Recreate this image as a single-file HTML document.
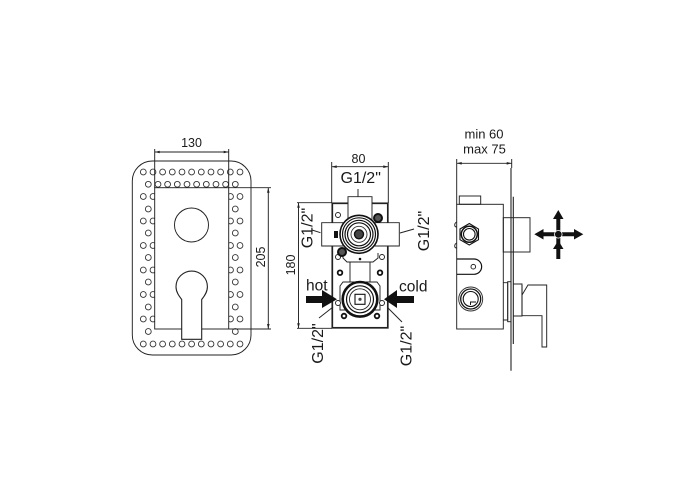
<!DOCTYPE html>
<html><head><meta charset="utf-8"><style>
html,body{margin:0;padding:0;background:#fff}
svg{display:block}
text{font-family:"Liberation Sans",sans-serif;fill:#1a1a1a}
</style></head><body>
<svg width="700" height="500" viewBox="0 0 700 500" xmlns="http://www.w3.org/2000/svg">
<rect width="700" height="500" fill="#fff"/>
<g fill="none" stroke="#222" stroke-width="0.95">
<!-- LEFT VIEW -->
<rect x="132.3" y="161" width="118.7" height="194" rx="20" ry="20"/>
<g stroke="#333" stroke-width="0.9" fill="#fff">
<circle cx="143.3" cy="172" r="2.9"/><circle cx="153" cy="172" r="2.9"/><circle cx="162.6" cy="172" r="2.9"/><circle cx="172.3" cy="172" r="2.9"/><circle cx="182" cy="172" r="2.9"/><circle cx="191.6" cy="172" r="2.9"/><circle cx="201.3" cy="172" r="2.9"/><circle cx="211" cy="172" r="2.9"/><circle cx="220.6" cy="172" r="2.9"/><circle cx="230.3" cy="172" r="2.9"/><circle cx="240" cy="172" r="2.9"/>
<circle cx="148.3" cy="184.3" r="2.9"/><circle cx="158" cy="184.3" r="2.9"/><circle cx="167.6" cy="184.3" r="2.9"/><circle cx="177.3" cy="184.3" r="2.9"/><circle cx="187" cy="184.3" r="2.9"/><circle cx="196.6" cy="184.3" r="2.9"/><circle cx="206.3" cy="184.3" r="2.9"/><circle cx="216" cy="184.3" r="2.9"/><circle cx="225.6" cy="184.3" r="2.9"/><circle cx="235.3" cy="184.3" r="2.9"/>
<circle cx="143.3" cy="196.5" r="2.9"/><circle cx="153" cy="196.5" r="2.9"/><circle cx="230.5" cy="196.5" r="2.9"/><circle cx="240" cy="196.5" r="2.9"/>
<circle cx="148.3" cy="209" r="2.9"/><circle cx="235.3" cy="209" r="2.9"/>
<circle cx="143.3" cy="221" r="2.9"/><circle cx="153" cy="221" r="2.9"/><circle cx="230.5" cy="221" r="2.9"/><circle cx="240" cy="221" r="2.9"/>
<circle cx="148.3" cy="233" r="2.9"/><circle cx="235.3" cy="233" r="2.9"/>
<circle cx="143.3" cy="245.5" r="2.9"/><circle cx="153" cy="245.5" r="2.9"/><circle cx="230.5" cy="245.5" r="2.9"/><circle cx="240" cy="245.5" r="2.9"/>
<circle cx="148.3" cy="257.5" r="2.9"/><circle cx="235.3" cy="257.5" r="2.9"/>
<circle cx="143.3" cy="270" r="2.9"/><circle cx="153" cy="270" r="2.9"/><circle cx="230.5" cy="270" r="2.9"/><circle cx="240" cy="270" r="2.9"/>
<circle cx="148.3" cy="282" r="2.9"/><circle cx="235.3" cy="282" r="2.9"/>
<circle cx="143.3" cy="294.5" r="2.9"/><circle cx="153" cy="294.5" r="2.9"/><circle cx="230.5" cy="294.5" r="2.9"/><circle cx="240" cy="294.5" r="2.9"/>
<circle cx="148.3" cy="307" r="2.9"/><circle cx="235.3" cy="307" r="2.9"/>
<circle cx="143.3" cy="319" r="2.9"/><circle cx="153" cy="319" r="2.9"/><circle cx="230.5" cy="319" r="2.9"/><circle cx="240" cy="319" r="2.9"/>
<circle cx="148.3" cy="331.5" r="2.9"/><circle cx="235.3" cy="331.5" r="2.9"/>
<circle cx="143.3" cy="344" r="2.9"/><circle cx="153" cy="344" r="2.9"/><circle cx="162.6" cy="344" r="2.9"/><circle cx="172.3" cy="344" r="2.9"/><circle cx="182" cy="344" r="2.9"/><circle cx="191.6" cy="344" r="2.9"/><circle cx="201.3" cy="344" r="2.9"/><circle cx="211" cy="344" r="2.9"/><circle cx="220.6" cy="344" r="2.9"/><circle cx="230.3" cy="344" r="2.9"/><circle cx="240" cy="344" r="2.9"/>
</g>
<rect x="154.7" y="187.7" width="74" height="141.3" fill="#fff"/>
<path d="M154.7 149V188M228.7 149V188M154.7 152H228.7M228.7 187.7H271M229 329H271M268.3 187.7V329"/>
<path d="M154.7 152l5-1.3v2.6zM228.7 152l-5-1.3v2.6zM268.3 187.7l-1.3 5h2.6zM268.3 329l-1.3-5h2.6z" fill="#222" stroke="none"/>
<circle cx="191.5" cy="225" r="17"/>
<path d="M181.7 339.3V299.5C179 296 176 292 176 286.7a15.7 15.7 0 0 1 31.4 0C207.4 292 204.5 296 201.7 299.5V339.3Z" fill="#fff" stroke-width="1.1"/>

<!-- MIDDLE VIEW -->
<path d="M331.7 162V203M388.3 162V203M331.7 166.7H388.3M297 202.7H332M297 328.3H332M298.5 202.7V328.3"/>
<path d="M331.7 166.7l5-1.3v2.6zM388.3 166.7l-5-1.3v2.6zM298.5 202.7l-1.3 5h2.6zM298.5 328.3l-1.3-5h2.6z" fill="#222" stroke="none"/>
<rect x="332.3" y="203.3" width="55.5" height="124.5" stroke-width="1.7"/>
<path d="M358 189V196.5M312 230L320.5 232.7M400 233L414 229M319 318L333 307M402 322L388 308"/>
<path d="M348 222.7V196.7H372V222.7H399.3V246H321.7V222.7Z" fill="#fff"/>
<circle cx="338" cy="215" r="2.5"/><circle cx="382" cy="257" r="2.5"/><circle cx="338" cy="257" r="2.5"/>
<path d="M343 253V258L347 262H373L378 258V253" fill="#fff"/>
<path d="M350 262V282M370 262V282"/>
<circle cx="360" cy="259" r="1.3" fill="#111" stroke="none"/>
<circle cx="378" cy="218" r="4" fill="#555" stroke="#111" stroke-width="2"/>
<circle cx="342" cy="252" r="4" fill="#555" stroke="#111" stroke-width="2"/>
<rect x="334" y="231" width="4" height="7" fill="#111" stroke="none"/>
<circle cx="359" cy="234.3" r="19" fill="#fff" stroke="#111" stroke-width="1.6"/>
<circle cx="359" cy="234.3" r="16.5" stroke="#111" stroke-width="1.2"/>
<circle cx="359" cy="234.3" r="14" stroke="#111" stroke-width="1.2"/>
<circle cx="359" cy="234.3" r="11.5" stroke="#111" stroke-width="1.2"/>
<circle cx="359" cy="234.3" r="8" stroke="#333" stroke-width="0.9"/>
<circle cx="359" cy="234.3" r="4.5" fill="#444" stroke="#111" stroke-width="1.4"/>
<circle cx="340" cy="272.7" r="2.3" stroke="#111" stroke-width="1.8"/>
<circle cx="380" cy="272.7" r="2.3" stroke="#111" stroke-width="1.8"/>
<circle cx="344" cy="316" r="2.3" stroke="#111" stroke-width="1.8"/>
<circle cx="377" cy="316" r="2.3" stroke="#111" stroke-width="1.8"/>
<path d="M343 282H377L380 286V310H340V286Z" fill="#fff"/>
<circle cx="338" cy="303" r="2.5" fill="#fff"/><circle cx="382" cy="303" r="2.5" fill="#fff"/>
<circle cx="360" cy="299.3" r="17.3" fill="#fff" stroke="#111" stroke-width="2.6"/>
<circle cx="360" cy="299.3" r="13.5" stroke="#111" stroke-width="1.2"/>
<circle cx="360" cy="299.3" r="10.5" stroke="#222" stroke-width="0.9"/>
<rect x="355" y="294.3" width="10" height="10" stroke="#111" stroke-width="1.1"/>
<circle cx="360" cy="299.3" r="1.6" fill="#444" stroke="none"/>
<path d="M306 296H322V290L337 299.3L322 308V303H306Z" fill="#111" stroke="none"/>
<path d="M414 296H397V290L384 299.3L397 308V303H414Z" fill="#111" stroke="none"/>

<!-- RIGHT VIEW -->
<path d="M456.7 159V204.5M511.7 159V168M456.7 163.3H511.7"/>
<path d="M456.7 163.3l5-1.3v2.6zM511.7 163.3l-5-1.3v2.6z" fill="#222" stroke="none"/>
<path d="M511 168V370.7" stroke-width="1.1"/>
<path d="M513.3 196.7V344" stroke-width="1.1"/>
<rect x="459.3" y="196" width="21.4" height="8.3"/>
<rect x="456.7" y="204.3" width="46.6" height="124.7"/>
<rect x="503.3" y="217.7" width="26.7" height="34.3"/>
<path d="M456.7 222q-2 1-2 3t2 2M456.7 243q-2 1-2 3t2 2"/>
<path d="M469.3 223.5L478.5 229V239.7L469.3 245L460 239.7V229Z" stroke="#111" stroke-width="1.1"/>
<circle cx="469.3" cy="234.3" r="8" stroke="#111" stroke-width="1.5"/>
<circle cx="469.3" cy="234.3" r="5.8" stroke="#111" stroke-width="1.1"/>
<path d="M456.7 259H474a7.6 7.6 0 0 1 0 15.3H456.7" stroke="#111" stroke-width="1.2"/>
<circle cx="473.3" cy="266.7" r="2.3"/>
<circle cx="470.7" cy="299" r="12" stroke="#333"/>
<circle cx="470.7" cy="299" r="10" stroke="#111" stroke-width="1.3"/>
<circle cx="470.7" cy="299" r="7.5" stroke="#111" stroke-width="1.1"/>
<path d="M470.5 305V302H476" stroke="#111"/>
<path d="M503.3 282.7H507.7V320H503.3"/>
<rect x="507.7" y="281.7" width="3.3" height="40"/>
<path d="M513.3 284H522V316H513.3"/>
<path d="M522 295L528 285H546.7V347H542V315.7H522Z" fill="#fff"/>
<path d="M522 285V316" stroke-width="1.1"/>
<path d="M556.3 218H560.3V259H556.3ZM542 232.3H575V236.3H542Z" fill="#111" stroke="none"/>
<path d="M558.3 210L563.5 219H553ZM534.3 234.3L543.5 229V239.5ZM583.3 234.3L574 229V239.5ZM558.3 240.5L563.5 249H553Z" fill="#111" stroke="none"/>
<circle cx="558.3" cy="234.3" r="3.8" fill="#111" stroke="#fff" stroke-width="0.8"/>
</g>

<text x="191.5" y="147" font-size="12.5" text-anchor="middle">130</text>
<text transform="translate(265 257) rotate(-90)" font-size="12.5" text-anchor="middle">205</text>
<text x="358.5" y="163" font-size="12.5" text-anchor="middle">80</text>
<text x="360.7" y="183" font-size="16" text-anchor="middle">G1/2"</text>
<text transform="translate(312.5 228) rotate(-90)" font-size="16" text-anchor="middle">G1/2"</text>
<text transform="translate(429 231) rotate(-90)" font-size="16" text-anchor="middle">G1/2"</text>
<text transform="translate(295 265) rotate(-90)" font-size="12.5" text-anchor="middle">180</text>
<text x="306" y="290.7" font-size="15.5">hot</text>
<text x="399" y="291.7" font-size="15.5">cold</text>
<text transform="translate(323 343.5) rotate(-90)" font-size="16" text-anchor="middle">G1/2"</text>
<text transform="translate(411.5 346) rotate(-90)" font-size="16" text-anchor="middle">G1/2"</text>
<text x="484" y="138.3" font-size="13" text-anchor="middle">min 60</text>
<text x="484.5" y="153.3" font-size="13" text-anchor="middle">max 75</text>
</svg>
</body></html>
